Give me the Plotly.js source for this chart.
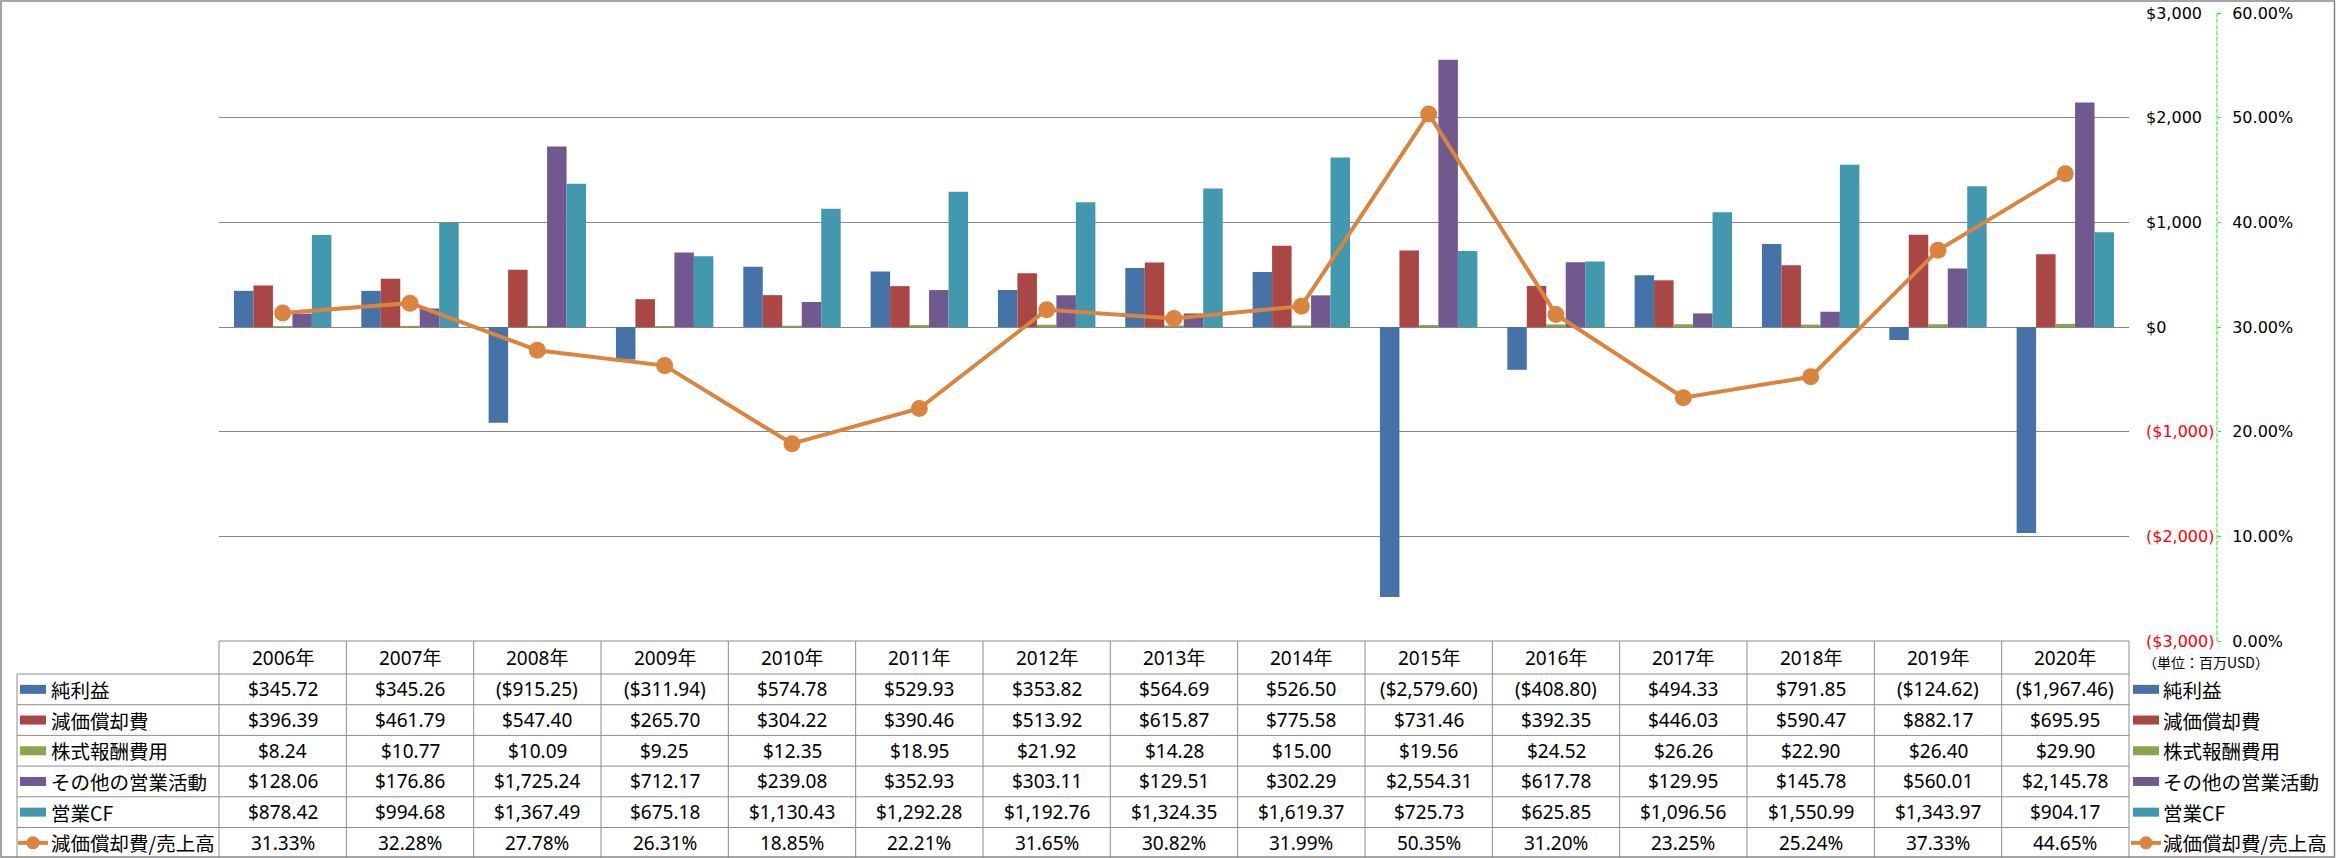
<!DOCTYPE html>
<html>
<head>
<meta charset="utf-8">
<script src="https://cdn.plot.ly/plotly-3.0.1.min.js"></script>
<style>
  html, body { margin: 0; padding: 0; background: #ffffff; }
  #chart { width: 2336px; height: 858px; }
</style>
</head>
<body>
<div id="chart"></div>
<script>
// ---------------- DATA ----------------
const years = ['2006年','2007年','2008年','2009年','2010年','2011年','2012年','2013年','2014年','2015年','2016年','2017年','2018年','2019年','2020年'];
const netIncome    = [345.72, 345.26, -915.25, -311.94, 574.78, 529.93, 353.82, 564.69, 526.50, -2579.60, -408.80, 494.33, 791.85, -124.62, -1967.46];
const depreciation = [396.39, 461.79, 547.40, 265.70, 304.22, 390.46, 513.92, 615.87, 775.58, 731.46, 392.35, 446.03, 590.47, 882.17, 695.95];
const stockComp    = [8.24, 10.77, 10.09, 9.25, 12.35, 18.95, 21.92, 14.28, 15.00, 19.56, 24.52, 26.26, 22.90, 26.40, 29.90];
const otherOps     = [128.06, 176.86, 1725.24, 712.17, 239.08, 352.93, 303.11, 129.51, 302.29, 2554.31, 617.78, 129.95, 145.78, 560.01, 2145.78];
const operatingCF  = [878.42, 994.68, 1367.49, 675.18, 1130.43, 1292.28, 1192.76, 1324.35, 1619.37, 725.73, 625.85, 1096.56, 1550.99, 1343.97, 904.17];
const depToSales   = [31.33, 32.28, 27.78, 26.31, 18.85, 22.21, 31.65, 30.82, 31.99, 50.35, 31.20, 23.25, 25.24, 37.33, 44.65];

const seriesNames  = ['純利益', '減価償却費', '株式報酬費用', 'その他の営業活動', '営業CF', '減価償却費/売上高'];
const seriesColors = ['#4572A7', '#AA4643', '#89A54E', '#71588F', '#4198AF', '#DB843D'];

const dollarTickVals = [-3000, -2000, -1000, 0, 1000, 2000, 3000];
const dollarTickText = ['($3,000)', '($2,000)', '($1,000)', '$0', '$1,000', '$2,000', '$3,000'];
const pctTickVals    = [0, 10, 20, 30, 40, 50, 60];
const pctTickText    = ['0.00%', '10.00%', '20.00%', '30.00%', '40.00%', '50.00%', '60.00%'];
const unitLabel      = '（単位：百万USD）';

// ---------------- LAYOUT GEOMETRY (pixels) ----------------
const W = 2336, H = 858;
const plotL = 219, plotR = 2129, plotT = 13, plotB = 641;
const pctAxisX = 2217;
const headerTop = 641, headerBot = 674, rowH = 30.7;
const tableLeft = 17;
const GRID = '#868686', TLINE = '#8C8C8C';

const px = x => x / W;
const py = y => (plotB - y) / (plotB - plotT);

// ---------------- TRACES ----------------
const barSeries = [netIncome, depreciation, stockComp, otherOps, operatingCF];
const traces = barSeries.map((vals, i) => ({
  type: 'bar', x: years, y: vals, name: seriesNames[i],
  marker: { color: seriesColors[i], line: { width: 0 } },
  hoverinfo: 'skip', showlegend: false
}));
traces.push({
  type: 'scatter', mode: 'lines+markers', x: years, y: depToSales, yaxis: 'y2',
  name: seriesNames[5],
  line: { color: seriesColors[5], width: 4 },
  marker: { color: seriesColors[5], size: 17 },
  hoverinfo: 'skip', showlegend: false
});

// ---------------- TABLE ----------------
const fmtDollar = v => {
  const s = '$' + Math.abs(v).toLocaleString('en-US', { minimumFractionDigits: 2, maximumFractionDigits: 2 });
  return v < 0 ? '(' + s + ')' : s;
};
const fmtPct = v => v.toFixed(2) + '%';

const numFont = { family: "'Noto Sans', 'Noto Sans CJK JP', sans-serif", size: 19, color: '#000000' };
const jpFont  = { family: "'Noto Sans CJK JP', sans-serif", size: 19.5, color: '#000000' };

const annotations = [];
const shapes = [];

const rowCenter = r => headerBot + rowH * r + rowH / 2;

// header
years.forEach(y => annotations.push({
  xref: 'x', yref: 'paper', x: y, y: py((headerTop + headerBot) / 2),
  text: y, showarrow: false, xanchor: 'center', yanchor: 'middle', font: numFont
}));
// rows
const tableSeries = [netIncome, depreciation, stockComp, otherOps, operatingCF, depToSales];
tableSeries.forEach((vals, r) => {
  vals.forEach((v, i) => annotations.push({
    xref: 'x', yref: 'paper', x: years[i], y: py(rowCenter(r)),
    text: r === 5 ? fmtPct(v) : fmtDollar(v),
    showarrow: false, xanchor: 'center', yanchor: 'middle', font: numFont
  }));
  annotations.push({
    xref: 'paper', yref: 'paper', x: px(49), y: py(rowCenter(r)),
    text: seriesNames[r], showarrow: false, xanchor: 'left', yanchor: 'middle', font: jpFont
  });
  annotations.push({
    xref: 'paper', yref: 'paper', x: px(2161), y: py(rowCenter(r)),
    text: seriesNames[r], showarrow: false, xanchor: 'left', yanchor: 'middle', font: jpFont
  });
});
annotations.push({
  xref: 'paper', yref: 'paper', x: px(2141), y: py(662),
  text: unitLabel, showarrow: false, xanchor: 'left', yanchor: 'middle',
  font: { family: "'Noto Sans CJK JP', sans-serif", size: 14, color: '#000000' }
});

// legend keys
function addKey(x0, r, keyW, isLine) {
  const cy = rowCenter(r);
  if (!isLine) {
    shapes.push({ type: 'rect', xref: 'paper', yref: 'paper', x0: px(x0), x1: px(x0 + keyW),
      y0: py(cy - 4.5), y1: py(cy + 4.5), fillcolor: seriesColors[r], line: { width: 0 } });
  } else {
    shapes.push({ type: 'line', xref: 'paper', yref: 'paper', x0: px(x0 - 2), x1: px(x0 + keyW + 2),
      y0: py(cy), y1: py(cy), line: { color: seriesColors[r], width: 4 } });
    const cx = x0 + keyW / 2, rr = 6.5;
    shapes.push({ type: 'circle', xref: 'paper', yref: 'paper', x0: px(cx - rr), x1: px(cx + rr),
      y0: py(cy + rr), y1: py(cy - rr), fillcolor: seriesColors[r], line: { width: 0 } });
  }
}
for (let r = 0; r < 6; r++) {
  addKey(20, r, 26, r === 5);
  addKey(2133, r, 26, r === 5);
}

// table lines
const hline = (y, x0, x1) => shapes.push({ type: 'line', xref: 'paper', yref: 'paper',
  x0: px(x0), x1: px(x1), y0: py(y), y1: py(y), line: { color: TLINE, width: 1 } });
const vline = (x, y0, y1) => shapes.push({ type: 'line', xref: 'paper', yref: 'paper',
  x0: px(x), x1: px(x), y0: py(y0), y1: py(y1), line: { color: TLINE, width: 1 } });

hline(headerTop, plotL, plotR);
for (let r = 0; r <= 5; r++) hline(headerBot + rowH * r, tableLeft, plotR);
vline(tableLeft, headerBot, H);
const colW = (plotR - plotL) / years.length;
for (let k = 0; k <= years.length; k++) vline(plotL + k * colW, headerTop, H);

// green dashed secondary-axis line
shapes.push({ type: 'line', xref: 'paper', yref: 'paper', x0: px(pctAxisX), x1: px(pctAxisX),
  y0: 0, y1: 1, line: { color: '#00FF00', width: 1, dash: '4px,2px' } });

// outer chart border
shapes.push({ type: 'rect', xref: 'paper', yref: 'paper', x0: px(1), x1: px(W - 1.5),
  y0: py(H - 1), y1: py(1), line: { color: GRID, width: 1.5 }, fillcolor: 'rgba(0,0,0,0)' });

// ---------------- LAYOUT ----------------
const tickFont = { family: "'DejaVu Sans', Verdana, sans-serif", size: 16, color: '#000000' };
const layout = {
  width: W, height: H,
  margin: { l: 0, r: 0, t: plotT, b: H - plotB, pad: 0 },
  paper_bgcolor: '#ffffff', plot_bgcolor: '#ffffff',
  showlegend: false,
  barmode: 'group', bargap: 0.235, bargroupgap: 0,
  xaxis: {
    type: 'category', domain: [px(plotL), px(plotR)],
    autorange: false, range: [-0.5, years.length - 0.5],
    showticklabels: false, ticks: '', showgrid: false, zeroline: false, showline: false,
    fixedrange: true
  },
  yaxis: {
    range: [-3000, 3000], autorange: false, side: 'right', anchor: 'x',
    tickvals: dollarTickVals,
    ticktext: dollarTickText.map((t, i) => dollarTickVals[i] < 0 ? '<span style="color:#FF0000">' + t + '</span>' : t),
    ticks: '', ticklabelstandoff: 16,
    showgrid: true, gridcolor: GRID, gridwidth: 1,
    zeroline: true, zerolinecolor: GRID, zerolinewidth: 1,
    showline: false, tickfont: tickFont, fixedrange: true, automargin: false
  },
  yaxis2: {
    range: [0, 60], autorange: false, overlaying: 'y', side: 'right', anchor: 'free', position: px(pctAxisX),
    tickvals: pctTickVals, ticktext: pctTickText,
    ticks: 'outside', ticklen: 3, tickcolor: '#00FF00', tickwidth: 1,
    ticklabelstandoff: 8,
    showgrid: false, zeroline: false, showline: false,
    tickfont: tickFont, fixedrange: true, automargin: false
  },
  annotations: annotations,
  shapes: shapes
};

Plotly.newPlot('chart', traces, layout, { staticPlot: true, displayModeBar: false });
</script>
</body>
</html>
